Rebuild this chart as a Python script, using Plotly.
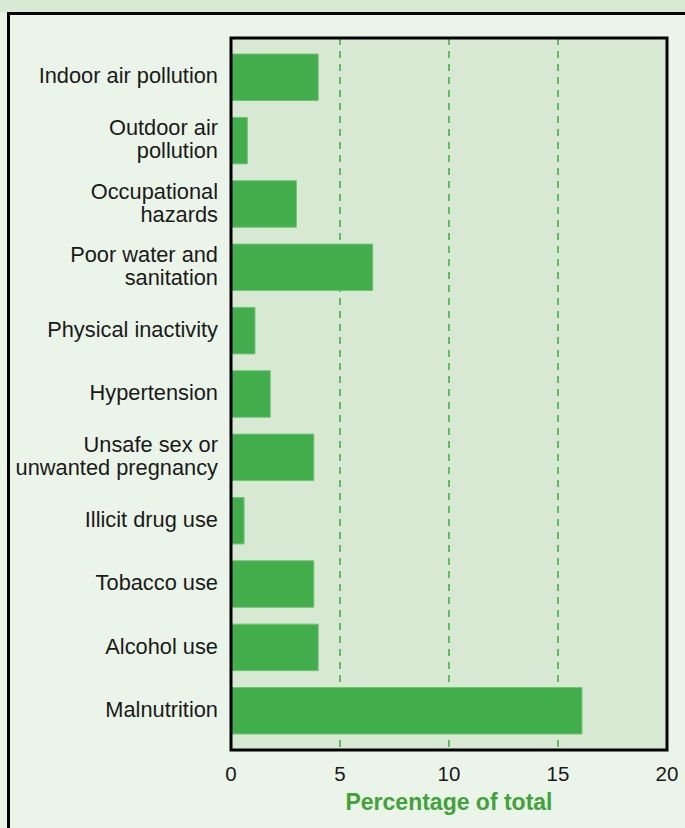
import plotly.graph_objects as go

categories = [
    "Indoor air pollution",
    "Outdoor air<br>pollution",
    "Occupational<br>hazards",
    "Poor water and<br>sanitation",
    "Physical inactivity",
    "Hypertension",
    "Unsafe sex or<br>unwanted pregnancy",
    "Illicit drug use",
    "Tobacco use",
    "Alcohol use",
    "Malnutrition",
]
values = [4.0, 0.75, 3.0, 6.5, 1.1, 1.8, 3.8, 0.6, 3.8, 4.0, 16.1]
x_ticks = [0, 5, 10, 15, 20]

W, H = 685, 828
L, R, T, B = 231, 18, 38, 78
pw, ph = W - L - R, H - T - B

def px_x(p):
    return (p - L) / pw

def px_y(p):
    return (H - B - p) / ph

# label glyph size vs. line pitch (tight leading as in the original)
LABEL_PX = 21.8
LINE_PITCH_FONT = 17.7  # 1.3 * 17.7 ~ 23px between lines

def styled(label):
    return "<br>".join(
        f"<span style='font-size:{LABEL_PX}px'>{part}</span>" for part in label.split("<br>")
    )

fig = go.Figure(go.Bar(
    x=values, y=categories, orientation="h",
    marker=dict(color="#41ae4b", line=dict(color="#72c474", width=1)),
    hoverinfo="x",
))

shapes = [
    dict(type="rect", xref="paper", yref="paper", x0=px_x(-10), x1=px_x(W + 10),
         y0=px_y(12.5), y1=px_y(-10), fillcolor="#d8ead4", line=dict(width=0), layer="below"),
    dict(type="line", xref="paper", yref="paper", x0=px_x(7), x1=px_x(W + 10),
         y0=px_y(13.5), y1=px_y(13.5), line=dict(color="black", width=3)),
    dict(type="line", xref="paper", yref="paper", x0=px_x(8.5), x1=px_x(8.5),
         y0=px_y(12), y1=px_y(H + 10), line=dict(color="black", width=3)),
    dict(type="rect", xref="paper", yref="paper", x0=0, x1=1, y0=0, y1=1,
         line=dict(color="black", width=3), fillcolor="rgba(0,0,0,0)", layer="above"),
]

fig.update_layout(
    width=W, height=H,
    margin=dict(l=L, r=R, t=T, b=B, pad=0, autoexpand=False),
    paper_bgcolor="#eaf4e8",
    plot_bgcolor="#d8e9d3",
    font=dict(family="Liberation Sans, Arial, Helvetica, sans-serif", size=20, color="#1a1a1a"),
    bargap=0.266,
    showlegend=False,
    shapes=shapes,
    xaxis=dict(
        range=[0, 20], tickvals=x_ticks, ticktext=[str(v) for v in x_ticks],
        showgrid=True, gridcolor="#5cbd5c", gridwidth=1.5, griddash="7px,6px",
        zeroline=False, showline=False, ticks="", fixedrange=True, automargin=False,
        ticklabelstandoff=9,
        tickfont=dict(size=20.5, color="#1a1a1a"),
        title=dict(text="<b>Percentage of total</b>", standoff=10,
                   font=dict(size=23, color="#3fa33a")),
    ),
    yaxis=dict(
        range=[10.62, -0.62], showgrid=False, zeroline=False, showline=False,
        tickmode="array", tickvals=categories, ticktext=[styled(c) for c in categories],
        ticks="", ticklabelstandoff=12, fixedrange=True, automargin=False,
        tickfont=dict(size=LINE_PITCH_FONT, color="#1a1a1a"),
    ),
)

fig.write_html(
    "out.html",
    config={"displayModeBar": False},
    post_script="document.body.style.margin='0';document.body.style.overflow='hidden';",
)
